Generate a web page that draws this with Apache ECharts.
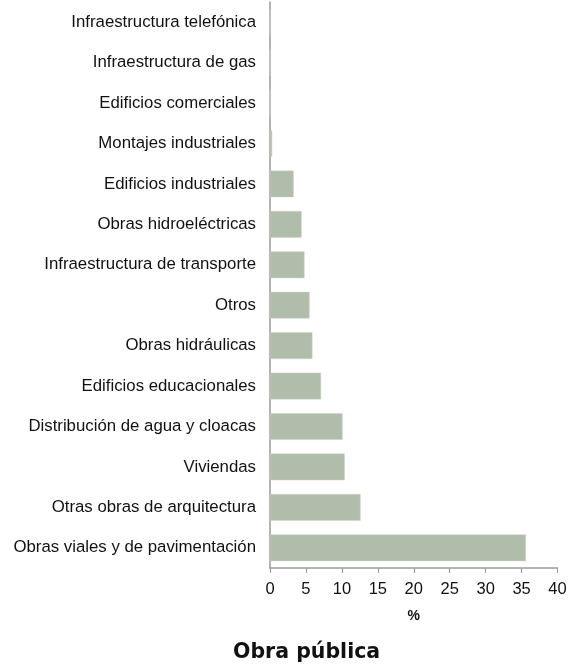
<!DOCTYPE html>
<html><head><meta charset="utf-8">
<script src="https://cdn.jsdelivr.net/npm/echarts@6/dist/echarts.min.js"></script>
<style>html,body{margin:0;padding:0;background:#fff}#c{width:577px;height:664px}</style>
</head><body><div id="c"></div>
<script>
const categories = [
  "Infraestructura telefónica",
  "Infraestructura de gas",
  "Edificios comerciales",
  "Montajes industriales",
  "Edificios industriales",
  "Obras hidroeléctricas",
  "Infraestructura de transporte",
  "Otros",
  "Obras hidráulicas",
  "Edificios educacionales",
  "Distribución de agua y cloacas",
  "Viviendas",
  "Otras obras de arquitectura",
  "Obras viales y de pavimentación"
];
const values = [0, 0, 0, 0.3, 3.3, 4.4, 4.8, 5.5, 5.9, 7.1, 10.1, 10.4, 12.6, 35.6];
const xTicks = [0, 5, 10, 15, 20, 25, 30, 35, 40];
const xAxisName = "%";
const chartTitle = "Obra pública";

const chart = echarts.init(document.getElementById('c'), null, {renderer: 'canvas'});
chart.setOption({
  animation: false,
  title: {
    text: chartTitle, left: 228, top: 637,
    textStyle: {fontFamily: 'DejaVu Sans', fontWeight: 'bold', fontSize: 20.5, color: '#111'}
  },
  grid: {left: 270, right: 19.5, top: 2, bottom: 96, containLabel: false},
  xAxis: {
    type: 'value', min: xTicks[0], max: xTicks[xTicks.length - 1], interval: 5,
    name: xAxisName, nameLocation: 'middle', nameGap: 41,
    nameTextStyle: {fontFamily: 'Liberation Sans', fontWeight: 'bold', fontSize: 14, color: '#111'},
    axisLine: {show: true, lineStyle: {color: '#9a9a9a', width: 1.5}},
    axisTick: {show: true, length: 5, lineStyle: {color: '#9a9a9a'}},
    axisLabel: {fontFamily: 'Liberation Sans', fontSize: 16.5, color: '#111', margin: 13},
    splitLine: {show: false}
  },
  yAxis: {
    type: 'category', data: categories, inverse: true,
    axisLine: {show: true, lineStyle: {color: '#9a9a9a', width: 1.5}},
    axisTick: {show: false},
    axisLabel: {fontFamily: 'Liberation Sans', fontSize: 16.8, color: '#111', margin: 14}
  },
  series: [{
    type: 'bar', data: values, barCategoryGap: '34%',
    itemStyle: {color: '#b0bdab', borderColor: '#c9d2c5', borderWidth: 0.5}
  }]
});
</script></body></html>
